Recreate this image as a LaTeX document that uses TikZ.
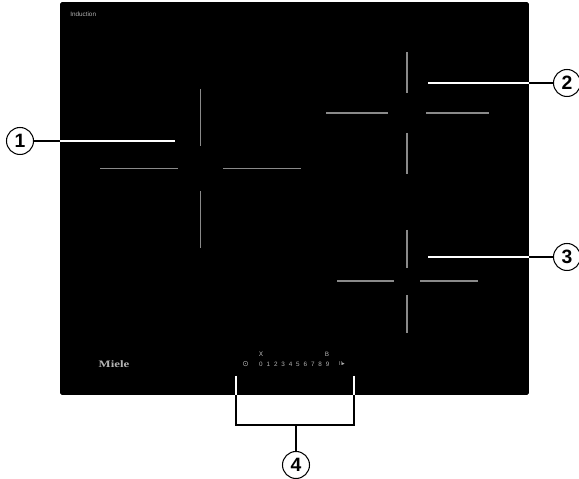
\documentclass[tikz,border=0pt]{standalone}
\usepackage{fontspec}
\setmainfont{Liberation Sans}
\newfontfamily\symfont{DejaVu Sans}
\newfontfamily\logofont[FakeStretch=1.3]{Liberation Serif}
\usepackage{xcolor}
\usetikzlibrary{positioning}
\definecolor{panelblack}{HTML}{000000}
\definecolor{zonegray}{HTML}{8A8A8A}
\definecolor{printgray}{HTML}{B4B4B4}
\tikzset{
  panel/.style={fill=panelblack, rounded corners=1pt, inner sep=0pt,
                minimum width=9.38cm, minimum height=7.86cm},
  callout/.style={draw=black, fill=white, circle, line width=0.6pt, inner sep=0pt,
                  minimum size=0.54cm, font=\fontsize{11}{11}\selectfont\bfseries},
  zone/.style={draw=zonegray, line width=0.75pt},
  leadin/.style={draw=white, line width=0.65pt},
  leadout/.style={draw=black, line width=0.65pt},
  print/.style={text=printgray, inner sep=0pt, font=\fontsize{3.6}{4}\selectfont},
}
\begin{document}
\begin{tikzpicture}[x=0.02cm, y=-0.02cm]
  \useasboundingbox (0,0) rectangle (579,479);
  \node[panel] (hob) at (294.5,198.5) {};
  % cooking zones
  \foreach \xa/\xb/\xc/\xd/\cx/\ya/\yb/\yc/\yd/\cy in {
    100/178/223/301/200.7/89/146.5/191/248/168.5,
    326/388/426/489/407/52/93/133/174/113,
    337/394/420/478/407/230/268/295/333/281} {
    \draw[zone] (\xa,\cy) -- (\xb,\cy);
    \draw[zone] (\xc,\cy) -- (\xd,\cy);
    \draw[zone] (\cx,\ya) -- (\cx,\yb);
    \draw[zone] (\cx,\yc) -- (\cx,\yd);
  }
  % printing on the glass
  \node[print, anchor=west] (type) at (70,14.5) {Induction};
  \node[text=printgray, inner sep=0pt, font=\logofont\fontsize{5.6}{6}\selectfont\bfseries] (logo) at (114,364) {Miele};
  \foreach \d in {0,...,9} {
    \node[print] (d\d) at (261+\d*7.4,364) {\d};
  }
  \node[print, font=\symfont\fontsize{4.4}{4}\selectfont] (timer) at (245.5,364) {⊙};
  \node[print, font=\symfont\fontsize{3.6}{4}\selectfont] (keep) at (261,354) {X};
  \node[print] (boost) at (327,354) {B};
  \node[print, font=\symfont\fontsize{3}{4}\selectfont] (pause) at (342,364) {II▸};
  % callouts
  \node[callout] (n1) at (20,141) {1};
  \node[callout] (n2) at (567,83) {2};
  \node[callout] (n3) at (567,257) {3};
  \node[callout] (n4) at (296,465) {4};
  \coordinate (l1) at (175,141);
  \coordinate (l2) at (428,83);
  \coordinate (l3) at (428,257);
  \coordinate (b1) at (236,376);
  \coordinate (b2) at (354,376);
  \coordinate (c1) at (236,425);
  \coordinate (c2) at (354,425);
  \coordinate (cm) at (296,425);
  \draw[leadout] (n1) -- (hob.west |- n1);
  \draw[leadin] (hob.west |- n1) -- (l1);
  \draw[leadout] (n2) -- (hob.east |- n2);
  \draw[leadin] (hob.east |- n2) -- (l2);
  \draw[leadout] (n3) -- (hob.east |- n3);
  \draw[leadin] (hob.east |- n3) -- (l3);
  \draw[leadin] (b1) -- (b1 |- hob.south);
  \draw[leadin] (b2) -- (b2 |- hob.south);
  \draw[leadout] (b1 |- hob.south) -- (c1) -- (c2) -- (b2 |- hob.south);
  \draw[leadout] (n4) -- (cm);
\end{tikzpicture}
\end{document}
